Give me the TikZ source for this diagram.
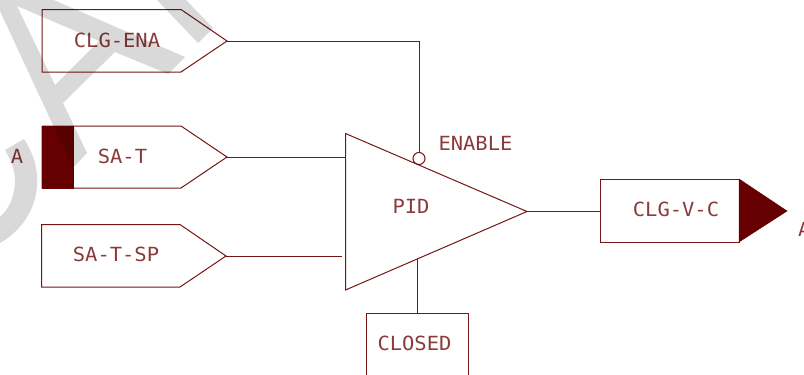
\documentclass[tikz,border=0pt]{standalone}
\usepackage{fontspec}
\newfontfamily\cadfont[FakeStretch=1.05]{DejaVu Sans Mono}
\definecolor{linecol}{HTML}{751515}
\definecolor{fillcol}{HTML}{660000}
\definecolor{textcol}{HTML}{8A3A3A}
\tikzset{
  wire/.style={draw=linecol,line width=1pt},
  solid block/.style={fill=fillcol,draw=fillcol,line width=0.5pt},
  label/.style={text=textcol,inner sep=0pt,font=\cadfont\fontsize{19.5}{22}\selectfont},
  wm/.style={fill=black,opacity=0.15,draw=none,even odd rule},
  outbox/.style={wire,rectangle,inner sep=0pt,minimum width=138.5pt,minimum height=63pt,anchor=west}
}
\begin{document}
\begin{tikzpicture}[x=1pt,y=-1pt]
\useasboundingbox (0,0) rectangle (804,375);
\clip (0,0) rectangle (804,375);
% named points
\coordinate (enaTip) at (227,41);
\coordinate (satTip) at (227,157);
\coordinate (spTip) at (226,256);
\coordinate (satIn) at (345.5,157);
\coordinate (spIn) at (342,256);
\coordinate (pidOut) at (527,211.5);
\coordinate (bubbleTop) at (419,152.5);
\coordinate (enaCorner) at (419,41);
\coordinate (pidLow) at (417,259);
\coordinate (closedTop) at (417,313);
% input pentagons
\draw[wire] (42,9.5) -- (181,9.5) -- (enaTip) -- (181,72) -- (42,72) -- cycle;
\draw[wire] (42,126) -- (181,126) -- (satTip) -- (181,188) -- (42,188) -- cycle;
\draw[wire] (41.5,224.5) -- (180,224.5) -- (spTip) -- (180,287) -- (41.5,287) -- cycle;
\fill[solid block] (42,126) rectangle (73.5,188);
% PID triangle
\draw[wire] (345.5,133.5) -- (pidOut) -- (345.5,290) -- cycle;
\draw[wire] (419,158.5) circle (6);
% output
\node[outbox] (out) at (600.3,210.5) {};
\fill[solid block] (739,179) -- (787,211) -- (739,242) -- cycle;
% closed box
\draw[wire] (366,376) -- (366,313) -- (468,313) -- (468,376);
% connectors
\draw[wire] (enaTip) -- (enaCorner) -- (bubbleTop);
\draw[wire] (satTip) -- (satIn);
\draw[wire] (spTip) -- (spIn);
\draw[wire] (pidOut) -- (out.west |- pidOut);
\draw[wire] (pidLow) -- (closedTop);
% labels
\node[label] (tEna) at (117,40) {CLG-ENA};
\node[label] (tSat) at (122.5,156) {SA-T};
\node[label] (tSp) at (116,254) {SA-T-SP};
\node[label] (tEnable) at (475.5,143) {ENABLE};
\node[label] (tPid) at (411,206) {PID};
\node[label] (tClosed) at (414.5,343) {CLOSED};
\node[label] (tOut) at (676,209) {CLG-V-C};
\node[label] (tA) at (17,156) {A};
\node[label,anchor=west] (tB) at (798,229) {A};
% watermark
\path[wm] (-20,-32) -- (185,57) -- (168,74) -- (115,52) -- (63,103) -- (87,153) -- (73,168) -- cycle
  (17,6) -- (99,41) -- (55,85) -- cycle;
\path[wm] (157,0) -- (198,43) -- (213,28) -- (186,0) -- cycle;
\path[wm] (24,139) .. controls (34,155) and (38,168) .. (37,185) .. controls (36,210) and (20,232) .. (0,243)
  -- (-10,243) -- (-10,222) -- (0,217) .. controls (10,208) and (15,195) .. (15,180) .. controls (15,170) and (11,160) .. (5,150) -- cycle;
\end{tikzpicture}
\end{document}
